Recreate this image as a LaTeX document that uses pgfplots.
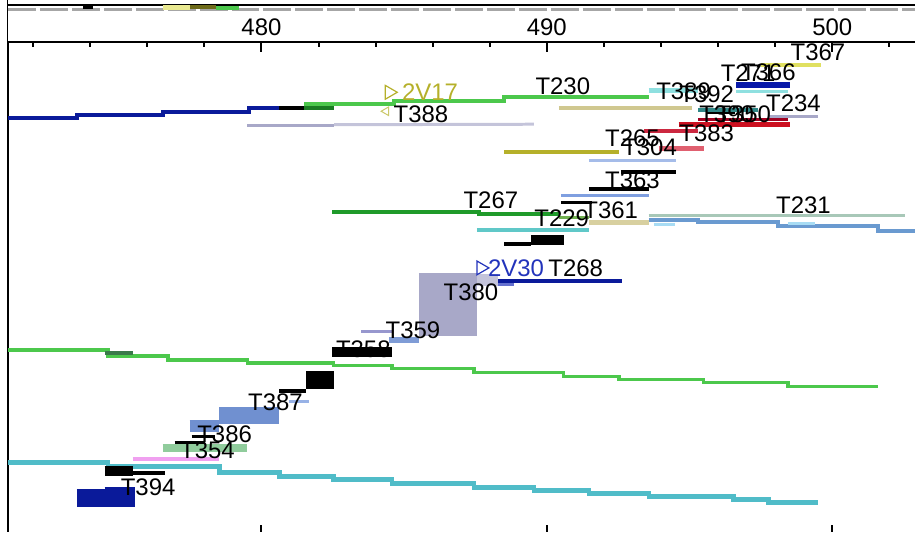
\documentclass[border=0pt]{standalone}
\usepackage{pgfplots}
\pgfplotsset{compat=1.18}
\usepackage{fontspec}
\setmainfont{Liberation Sans}
\definecolor{navy}{HTML}{0A1A9A}
\definecolor{lgreen}{HTML}{4CC84C}
\definecolor{dgreen}{HTML}{1F9A2A}
\definecolor{lav}{HTML}{A8A8C8}
\definecolor{lavl}{HTML}{C4C4DA}
\definecolor{olive}{HTML}{B5B02A}
\definecolor{khaki}{HTML}{D0C890}
\definecolor{lcyan}{HTML}{8FE0E0}
\definecolor{dblue}{HTML}{0818A8}
\definecolor{yel}{HTML}{E0E060}
\definecolor{teal2}{HTML}{308888}
\definecolor{red1}{HTML}{CC1020}
\definecolor{red2}{HTML}{A00020}
\definecolor{red3}{HTML}{CC2840}
\definecolor{lred}{HTML}{E06070}
\definecolor{blav}{HTML}{7F9FE0}
\definecolor{tan2}{HTML}{D8D0A0}
\definecolor{steel}{HTML}{6A9AD0}
\definecolor{sky}{HTML}{A8DCF4}
\definecolor{ggreen}{HTML}{A8C8B8}
\definecolor{cyan2}{HTML}{60C8C8}
\definecolor{tealL}{HTML}{50BCC8}
\definecolor{pink2}{HTML}{F0A0F0}
\definecolor{mgreen}{HTML}{90CC9C}
\definecolor{bblock}{HTML}{7090D0}
\definecolor{olgreen}{HTML}{70B050}
\definecolor{dkgg}{HTML}{3A7A4A}
\definecolor{blue2}{HTML}{2233BB}
\pgfplotsset{seg/.style={no markers, line cap=butt, line join=miter}}
\begin{document}
\begin{tikzpicture}
\begin{axis}[
  scale only axis, width=454.5pt, height=245.5pt,
  xmin=471.12, xmax=502.9, ymin=42, ymax=533, y dir=reverse,
  clip=false,
  axis x line*=top, axis y line*=left,
  axis line style={line width=1pt, -},
  ytick=\empty,
  xtick={480,490,500},
  minor xtick={472,474,476,478,482,484,486,488,492,494,496,498,502},
  tick align=inside,
  major tick length=5pt, minor tick length=2.5pt,
  every tick/.style={black, line width=1pt},
  ticklabel style={font=\fontsize{12}{14}\selectfont},
  /pgf/number format/assume math mode=true,
  /pgf/number format/1000 sep={},
  label style={font=\fontsize{12}{14}\selectfont},
]
% bounding
\addplot[draw=none] coordinates {(470.84,0)(502.9,533)};
% top strip
\addplot[seg, black, line width=0.5pt] coordinates {(471.12,0)(471.12,42)};
\addplot[seg, black, line width=1pt] coordinates {(471.12,5)(502.9,5)};
\addplot[seg, gray!70, line width=1.5pt, dash pattern=on 14pt off 2pt] coordinates {(471.12,9)(502.9,9)};
\addplot[seg, black, line width=1.5pt] coordinates {(473.75,7)(474.1,7)};
\addplot[seg, yel!70, line width=2.5pt] coordinates {(476.55,7)(477.5,7)};
\addplot[seg, olive!60!black, line width=2pt] coordinates {(477.5,7)(478.4,7)};
\addplot[seg, lgreen, line width=2pt] coordinates {(478.4,8)(479.2,8)};
% bottom ticks
\addplot[seg, black, line width=1pt] coordinates {(480,526)(480,533)};
\addplot[seg, black, line width=1pt] coordinates {(490,526)(490,533)};
\addplot[seg, black, line width=1pt] coordinates {(500,526)(500,533)};

% upper left lines
\addplot[seg, navy, line width=2pt] coordinates {(471.12,118)(473.53,118)(473.53,115)(476.54,115)(476.54,112)(479.58,112)(479.58,108)(480.63,108)};
\addplot[seg, black, line width=2pt] coordinates {(480.63,107.5)(481.5,107.5)};
\addplot[seg, dgreen!80!black, line width=2pt] coordinates {(481.5,108)(482.55,108)};
\addplot[seg, lgreen, line width=1.8pt] coordinates {(481.5,104)(484.65,104)(484.65,101)(488.5,101)(488.5,97)(493.57,97)};
\addplot[seg, lav, line width=1.5pt] coordinates {(479.51,125)(482.55,125)};
\addplot[seg, lavl, line width=1.5pt] coordinates {(482.55,124.5)(489.55,124)};
\addplot[seg, khaki, line width=2pt] coordinates {(490.42,108)(495.07,108)};
\addplot[seg, lcyan, line width=2.5pt] coordinates {(493.57,90)(495.31,90)};
\addplot[seg, lcyan, line width=1.5pt] coordinates {(496.64,91)(498.46,91)};
\addplot[seg, dblue, line width=3pt] coordinates {(496.64,85)(498.53,85)};
\addplot[seg, yel, line width=2pt] coordinates {(497.52,65)(499.62,65)};
\addplot[seg, teal2, line width=2pt] coordinates {(495.31,110)(497.41,110)};
\addplot[seg, black, line width=1pt] coordinates {(495.6,113)(496.6,113)};
\addplot[seg, lav, line width=1.5pt] coordinates {(497.76,116)(499.51,116)};
\addplot[seg, red2, line width=1.5pt] coordinates {(495.31,119)(498.46,119)};
\addplot[seg, red1, line width=2.5pt] coordinates {(494.62,124)(498.53,124)};
\addplot[seg, red3, line width=2pt] coordinates {(493.39,131)(495.31,131)};
\addplot[seg, lred, line width=2.5pt] coordinates {(493.92,148)(495.49,148)};
\addplot[seg, olive, line width=2pt] coordinates {(488.5,152)(492.52,152)};
\addplot[seg, blav!70, line width=1.5pt] coordinates {(491.47,160)(494.51,160)};
\addplot[seg, black, line width=2pt] coordinates {(492.59,172)(494.51,172)};
\addplot[seg, black, line width=2pt] coordinates {(491.47,189)(493.57,189)};
\addplot[seg, blav, line width=1.5pt] coordinates {(490.49,195)(493.57,195)};
\addplot[seg, black, line width=1.5pt] coordinates {(490.49,202)(491.57,202)};
\addplot[seg, dgreen, line width=2pt] coordinates {(482.48,212)(487.62,212)(487.62,214)(490.42,214)};
\addplot[seg, olgreen, line width=1.5pt] coordinates {(490.42,217)(491.47,217)};
\addplot[seg, tan2, line width=2.5pt] coordinates {(491.47,222)(493.57,222)};
\addplot[seg, ggreen, line width=1.5pt] coordinates {(493.57,215)(502.55,215)};
\addplot[seg, steel, line width=2pt] coordinates {(493.57,220)(495.31,220)(495.31,222)(498.11,222)(498.11,226)(501.61,226)(501.61,231)(502.9,231)};
\addplot[seg, sky, line width=1.5pt] coordinates {(493.74,224)(494.5,224)};
\addplot[seg, sky, line width=1.5pt] coordinates {(498.46,223)(499.4,223)};
\addplot[seg, cyan2, line width=2pt] coordinates {(487.55,230)(491.47,230)};
\addplot[seg, black, line width=5pt] coordinates {(489.44,240)(490.59,240)};
\addplot[seg, black, line width=2pt] coordinates {(488.5,244)(489.44,244)};
\addplot[seg, navy, line width=2pt] coordinates {(488.15,281)(492.62,281)};
\addplot[seg, blue2!70, line width=1.5pt] coordinates {(488.15,285)(488.85,285)};
\addplot[seg, lav, line width=31.5pt] coordinates {(485.52,304.5)(487.55,304.5)};
\addplot[seg, lavl, line width=6pt] coordinates {(487.55,280)(488.3,280)};
\addplot[seg, lav!90!blue, line width=1.5pt] coordinates {(483.5,332)(484.58,332)};
\addplot[seg, blav!90!gray, line width=3pt] coordinates {(484.48,340)(485.52,340)};
\addplot[seg, black, line width=5pt] coordinates {(482.48,352)(484.58,352)};
% long green
\addplot[seg, lgreen, line width=1.8pt] coordinates {(471.12,350)(474.62,350)(474.62,356)(476.72,356)(476.72,360)(479.51,360)(479.51,363)(482.52,363)(482.52,366)(484.58,366)(484.58,369)(487.45,369)(487.45,373)(490.59,373)(490.59,377)(492.52,377)(492.52,380)(495.49,380)(495.49,383)(498.46,383)(498.46,387)(501.61,387)};
\addplot[seg, dkgg, line width=2pt] coordinates {(474.51,353)(475.49,353)};
\addplot[seg, black, line width=9pt] coordinates {(481.57,380)(482.55,380)};
\addplot[seg, black, line width=2pt] coordinates {(480.63,391)(481.57,391)};
\addplot[seg, blav!80, line width=1.5pt] coordinates {(480.98,402)(481.68,402)};
\addplot[seg, bblock, line width=8.5pt] coordinates {(478.53,416)(480.63,416)};
\addplot[seg, bblock, line width=6pt] coordinates {(477.48,426)(478.53,426)};
\addplot[seg, black, line width=1.5pt] coordinates {(477.55,437)(478.36,437)};
\addplot[seg, black, line width=1.5pt] coordinates {(476.96,443)(478.01,443)};
\addplot[seg, mgreen, line width=4pt] coordinates {(476.54,448)(479.48,448)};
\addplot[seg, pink2, line width=2pt] coordinates {(475.49,460)(478.53,460)};
% long teal
\addplot[seg, tealL, line width=2.2pt] coordinates {(471.12,463)(474.62,463)(474.62,467)(478.53,467)(478.53,473)(480.63,473)(480.63,477)(482.52,477)(482.52,480)(484.58,480)(484.58,484)(487.45,484)(487.45,488)(489.55,488)(489.55,491)(491.47,491)(491.47,494)(493.57,494)(493.57,497)(496.54,497)(496.54,500)(497.76,500)(497.76,503)(499.51,503)};
\addplot[seg, black, line width=5pt] coordinates {(474.51,472)(475.49,472)};
\addplot[seg, black, line width=2pt] coordinates {(475.49,474)(476.61,474)};
\addplot[seg, navy, line width=9pt] coordinates {(473.53,499)(475.56,499)};
\addplot[seg, navy, line width=2.5pt] coordinates {(474.51,490)(475.56,490)};
% markers
\addplot[only marks, mark=triangle, mark size=4pt, mark options={rotate=-90, olive, line width=0.6pt}] coordinates {(484.48,92)};
\addplot[only marks, mark=triangle, mark size=2.5pt, mark options={rotate=90, olive!70, line width=0.5pt}] coordinates {(484.37,111)};
\addplot[only marks, mark=triangle, mark size=4pt, mark options={rotate=-90, blue2, line width=0.6pt}] coordinates {(487.69,268)};
% labels
\begin{scope}[every node/.style={font=\fontsize{12}{14}\selectfont, inner sep=0pt}]
\node[olive] at (axis cs:485.91,92) {2V17};
\node at (axis cs:485.59,114) {T388};
\node at (axis cs:490.56,86) {T230};
\node at (axis cs:494.79,91) {T389};
\node at (axis cs:495.6,94) {T392};
\node at (axis cs:497.05,73) {T271};
\node at (axis cs:497.76,72) {T366};
\node at (axis cs:499.5,52) {T367};
\node at (axis cs:498.64,103) {T234};
\node at (axis cs:496.3,114) {T390};
\node at (axis cs:496.9,114) {T350};
\node at (axis cs:493.0,138) {T265};
\node at (axis cs:495.6,133) {T383};
\node at (axis cs:493.6,147) {T304};
\node at (axis cs:493.0,180) {T363};
\node at (axis cs:488.04,200) {T267};
\node at (axis cs:490.52,218) {T229};
\node at (axis cs:492.24,210) {T361};
\node at (axis cs:498.99,205) {T231};
\node[blue2] at (axis cs:488.92,268) {2V30};
\node at (axis cs:491.01,268) {T268};
\node at (axis cs:487.34,292) {T380};
\node at (axis cs:485.31,330) {T359};
\node at (axis cs:483.57,350) {T358};
\node at (axis cs:480.49,403) {T387};
\node at (axis cs:478.71,435) {T386};
\node at (axis cs:478.11,451) {T354};
\node at (axis cs:476.03,488) {T394};
\end{scope}
\end{axis}
\end{tikzpicture}
\end{document}
